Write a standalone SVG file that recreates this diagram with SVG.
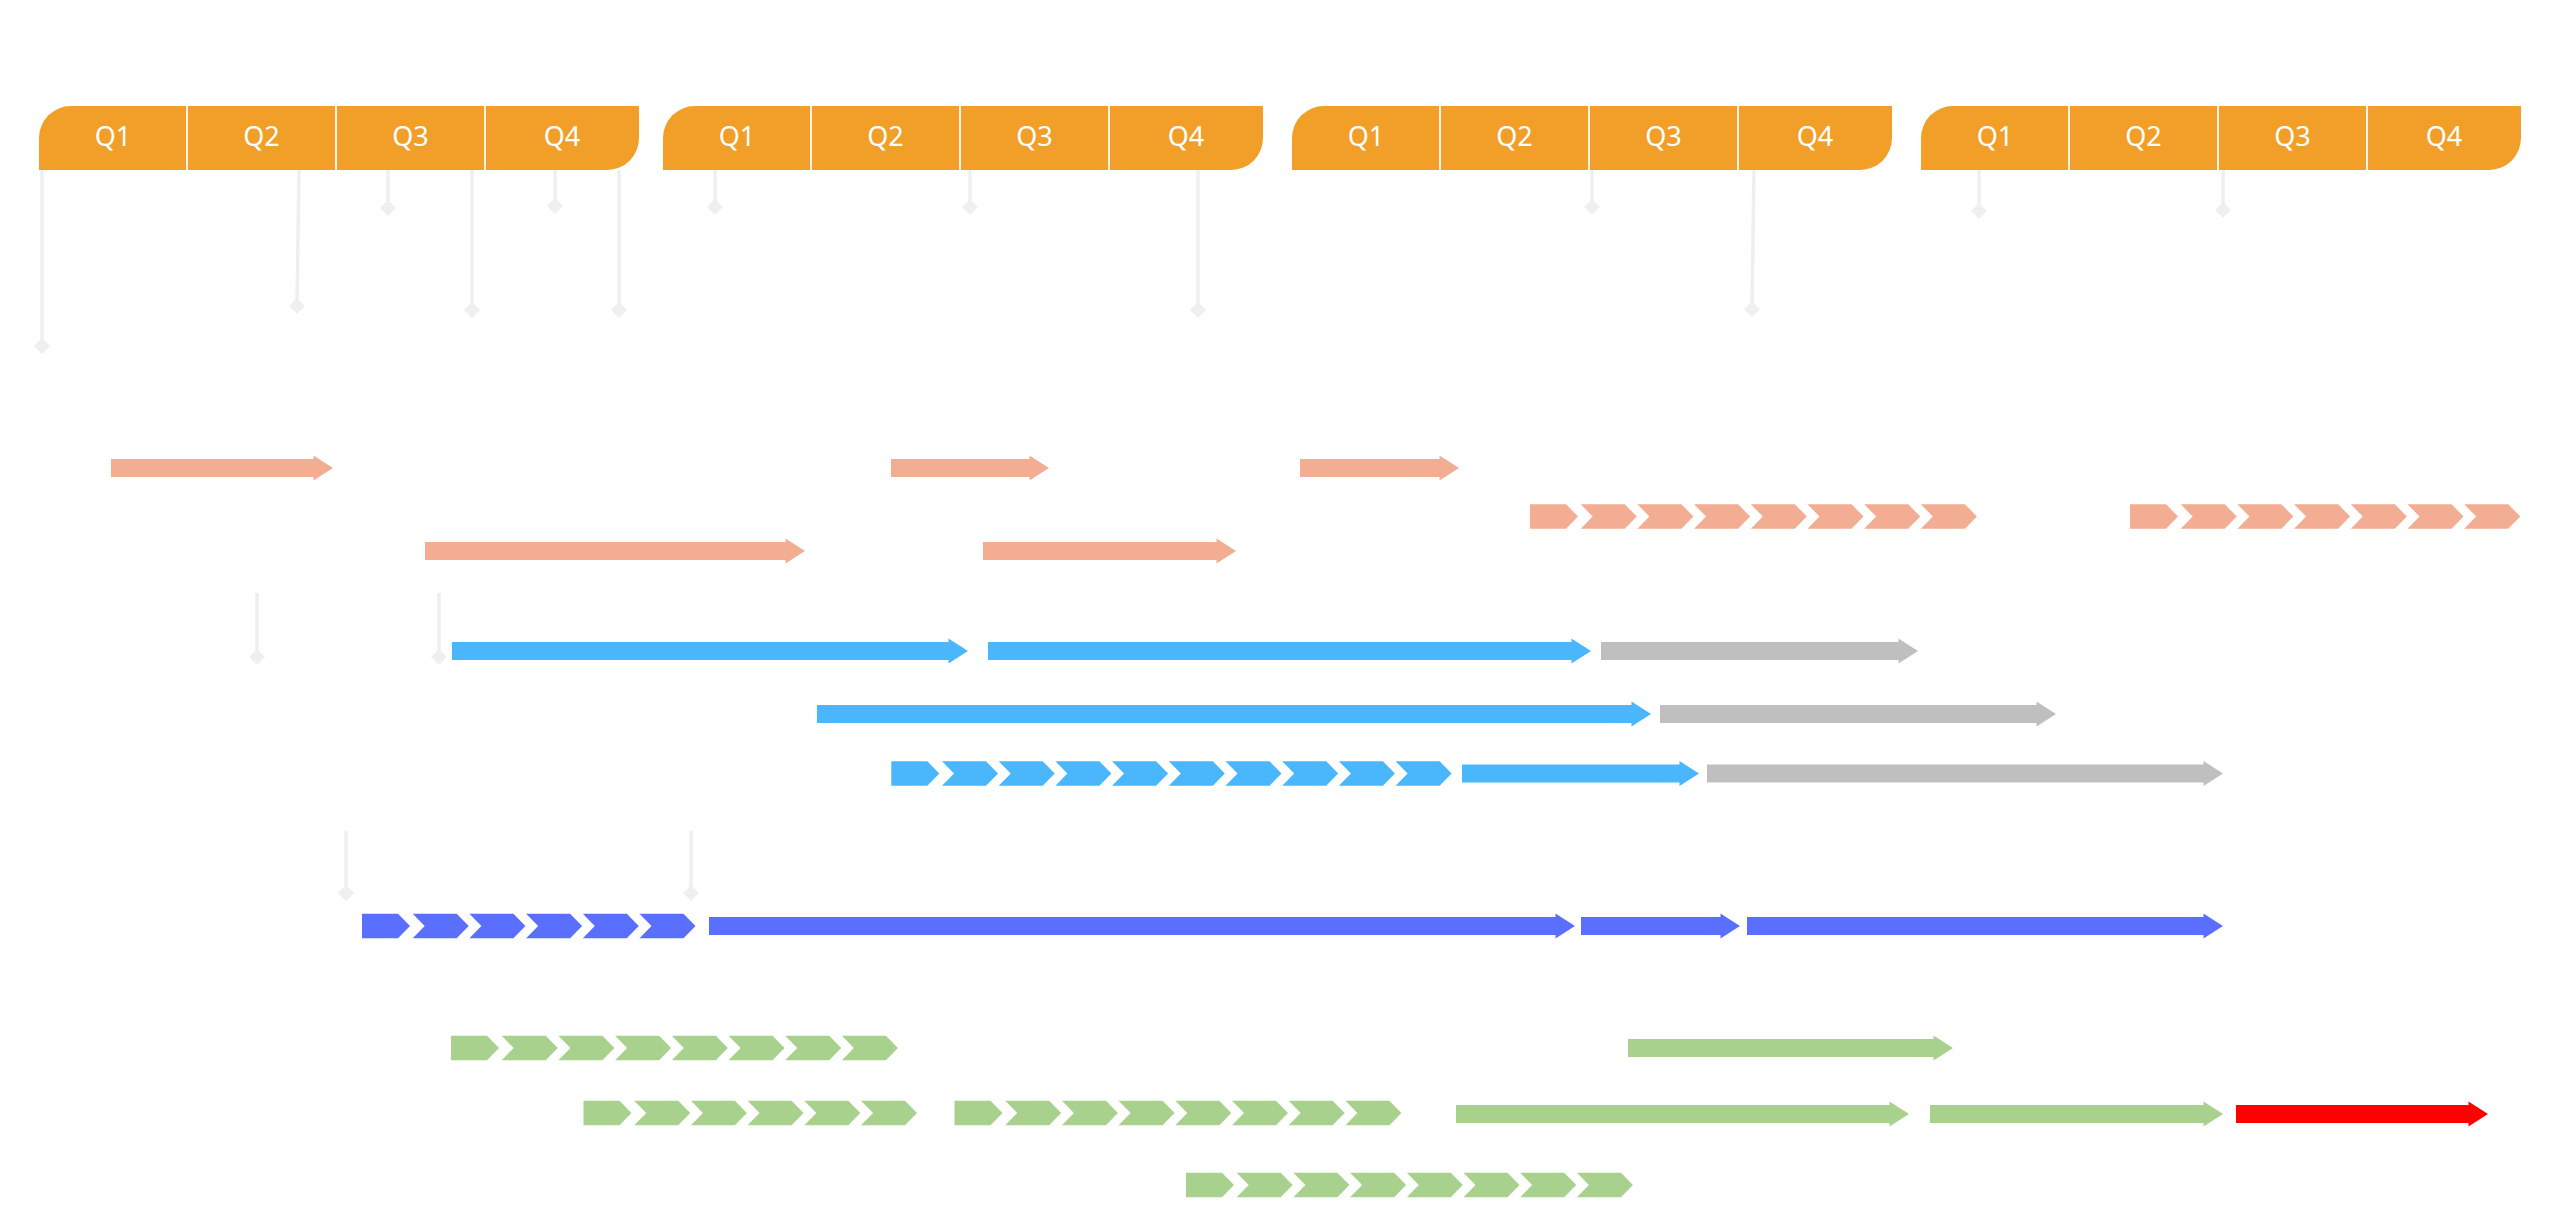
<svg xmlns="http://www.w3.org/2000/svg" xmlns:xlink="http://www.w3.org/1999/xlink" width="2560" height="1209" viewBox="0 0 2560 1209">
<style>
.hdr{fill:#F19F28}
.div{stroke:#FFF6E8;stroke-width:2}
.ql{font-family:"Noto Sans","Liberation Sans",sans-serif;font-size:27px;fill:#FFFFFF;text-anchor:middle}
.ms{stroke:#EFEFEF;stroke-width:3.5;fill:none}
.dm{fill:#EFEFEF}
.salmon{fill:#F2AD93}
.blue{fill:#4AB6FC}
.gray{fill:#BFBFBF}
.purple{fill:#5A6FFD}
.green{fill:#A9D18E}
.red{fill:#FF0000}
</style>
<defs>
<path id="chev0" d="M0,-12.25 H36 L48,0 L36,12.25 H0 Z"/>
<path id="chev" d="M0,-12.25 H44 L56,0 L44,12.25 H0 L12,0 Z"/>
<path id="dia" d="M0,-8 L8,0 L0,8 L-8,0 Z"/>
</defs>
<rect width="2560" height="1209" fill="#FFFFFF"/>

<!-- milestone connectors -->
<g id="connectors">
  <path class="ms" d="M42,170 V346 M299,170 L297,306 M388,170 V208 M472,170 V310 M555,170 V206 M619,170 V310"/>
  <path class="ms" d="M715,170 V207 M970,170 V207 M1198,170 V310"/>
  <path class="ms" d="M1592,170 V207 M1754,170 L1752,309"/>
  <path class="ms" d="M1979,170 V211 M2223,170 V210"/>
  <path class="ms" d="M257,593 V657 M439,593 V657 M346,831 V893 M691,831 V893"/>
  <g class="dm">
    <use href="#dia" x="42" y="346"/><use href="#dia" x="297" y="306"/><use href="#dia" x="388" y="208"/>
    <use href="#dia" x="472" y="310"/><use href="#dia" x="555" y="206"/><use href="#dia" x="619" y="310"/>
    <use href="#dia" x="715" y="207"/><use href="#dia" x="970" y="207"/><use href="#dia" x="1198" y="310"/>
    <use href="#dia" x="1592" y="207"/><use href="#dia" x="1752" y="309"/>
    <use href="#dia" x="1979" y="211"/><use href="#dia" x="2223" y="210"/>
    <use href="#dia" x="257" y="657"/><use href="#dia" x="439" y="657"/>
    <use href="#dia" x="346" y="893"/><use href="#dia" x="691" y="893"/>
  </g>
</g>

<!-- year headers -->
<g id="year1">
  <path class="hdr" d="M39,170 V138 A32,32 0 0 1 71,106 H639 V138 A32,32 0 0 1 607,170 Z"/>
  <path class="div" d="M187,106 V170 M336,106 V170 M485,106 V170"/>
  <text class="ql" x="113" y="146">Q1</text><text class="ql" x="261.5" y="146">Q2</text>
  <text class="ql" x="410.5" y="146">Q3</text><text class="ql" x="562" y="146">Q4</text>
</g>
<g id="year2">
  <path class="hdr" d="M663,170 V138 A32,32 0 0 1 695,106 H1263 V138 A32,32 0 0 1 1231,170 Z"/>
  <path class="div" d="M811,106 V170 M960,106 V170 M1109,106 V170"/>
  <text class="ql" x="737" y="146">Q1</text><text class="ql" x="885.5" y="146">Q2</text>
  <text class="ql" x="1034.5" y="146">Q3</text><text class="ql" x="1186" y="146">Q4</text>
</g>
<g id="year3">
  <path class="hdr" d="M1292,170 V138 A32,32 0 0 1 1324,106 H1892 V138 A32,32 0 0 1 1860,170 Z"/>
  <path class="div" d="M1440,106 V170 M1589,106 V170 M1738,106 V170"/>
  <text class="ql" x="1366" y="146">Q1</text><text class="ql" x="1514.5" y="146">Q2</text>
  <text class="ql" x="1663.5" y="146">Q3</text><text class="ql" x="1815" y="146">Q4</text>
</g>
<g id="year4">
  <path class="hdr" d="M1921,170 V138 A32,32 0 0 1 1953,106 H2521 V138 A32,32 0 0 1 2489,170 Z"/>
  <path class="div" d="M2069,106 V170 M2218,106 V170 M2367,106 V170"/>
  <text class="ql" x="1995" y="146">Q1</text><text class="ql" x="2143.5" y="146">Q2</text>
  <text class="ql" x="2292.5" y="146">Q3</text><text class="ql" x="2444" y="146">Q4</text>
</g>

<!-- row A -->
<g id="rowA" transform="translate(0,468)" class="salmon">
  <path d="M111,-9 H313.5 V-12.5 L333,0 L313.5,12.5 V9 H111 Z"/>
  <path d="M891,-9 H1029.5 V-12.5 L1049,0 L1029.5,12.5 V9 H891 Z"/>
  <path d="M1300,-9 H1439.5 V-12.5 L1459,0 L1439.5,12.5 V9 H1300 Z"/>
</g>
<!-- row B -->
<g id="rowB" transform="translate(0,516.5)" class="salmon">
  <use href="#chev0" x="1530"/><use href="#chev" x="1580.7"/><use href="#chev" x="1637.4"/><use href="#chev" x="1694.1"/>
  <use href="#chev" x="1750.8"/><use href="#chev" x="1807.5"/><use href="#chev" x="1864.2"/><use href="#chev" x="1920.9"/>
  <use href="#chev0" x="2130"/><use href="#chev" x="2180.7"/><use href="#chev" x="2237.4"/><use href="#chev" x="2294.1"/>
  <use href="#chev" x="2350.8"/><use href="#chev" x="2407.5"/><use href="#chev" x="2464.2"/>
</g>
<!-- row C -->
<g id="rowC" transform="translate(0,551)" class="salmon">
  <path d="M425,-9 H785.5 V-12.5 L805,0 L785.5,12.5 V9 H425 Z"/>
  <path d="M983,-9 H1216.5 V-12.5 L1236,0 L1216.5,12.5 V9 H983 Z"/>
</g>
<!-- row D -->
<g id="rowD" transform="translate(0,651)">
  <path class="blue" d="M452,-9 H948.5 V-12.5 L968,0 L948.5,12.5 V9 H452 Z"/>
  <path class="blue" d="M988,-9 H1571.5 V-12.5 L1591,0 L1571.5,12.5 V9 H988 Z"/>
  <path class="gray" d="M1601,-9 H1898.5 V-12.5 L1918,0 L1898.5,12.5 V9 H1601 Z"/>
</g>
<!-- row E -->
<g id="rowE" transform="translate(0,714)">
  <path class="blue" d="M817,-9 H1631.5 V-12.5 L1651,0 L1631.5,12.5 V9 H817 Z"/>
  <path class="gray" d="M1660,-9 H2036.5 V-12.5 L2056,0 L2036.5,12.5 V9 H1660 Z"/>
</g>
<!-- row F -->
<g id="rowF" transform="translate(0,773.5)">
  <g class="blue">
    <use href="#chev0" x="891.3"/><use href="#chev" x="942"/><use href="#chev" x="998.7"/><use href="#chev" x="1055.4"/>
    <use href="#chev" x="1112.1"/><use href="#chev" x="1168.8"/><use href="#chev" x="1225.5"/><use href="#chev" x="1282.2"/>
    <use href="#chev" x="1338.9"/><use href="#chev" x="1395.6"/>
    <path d="M1462,-9 H1679.5 V-12.5 L1699,0 L1679.5,12.5 V9 H1462 Z"/>
  </g>
  <path class="gray" d="M1707,-9 H2203.5 V-12.5 L2223,0 L2203.5,12.5 V9 H1707 Z"/>
</g>
<!-- row G -->
<g id="rowG" transform="translate(0,926)" class="purple">
  <use href="#chev0" x="362"/><use href="#chev" x="412.7"/><use href="#chev" x="469.4"/><use href="#chev" x="526.1"/>
  <use href="#chev" x="582.8"/><use href="#chev" x="639.5"/>
  <path d="M709,-9 H1555.5 V-12.5 L1575,0 L1555.5,12.5 V9 H709 Z"/>
  <path d="M1581,-9 H1720.5 V-12.5 L1740,0 L1720.5,12.5 V9 H1581 Z"/>
  <path d="M1747,-9 H2203.5 V-12.5 L2223,0 L2203.5,12.5 V9 H1747 Z"/>
</g>
<!-- row H -->
<g id="rowH" transform="translate(0,1048)" class="green">
  <use href="#chev0" x="451"/><use href="#chev" x="501.7"/><use href="#chev" x="558.4"/><use href="#chev" x="615.1"/>
  <use href="#chev" x="671.8"/><use href="#chev" x="728.5"/><use href="#chev" x="785.2"/><use href="#chev" x="841.9"/>
  <path d="M1628,-9 H1933.5 V-12.5 L1953,0 L1933.5,12.5 V9 H1628 Z"/>
</g>
<!-- row I -->
<g id="rowI" transform="translate(0,1113)">
  <g class="green">
    <use href="#chev0" x="583.5"/><use href="#chev" x="634.2"/><use href="#chev" x="690.9"/><use href="#chev" x="747.6"/>
    <use href="#chev" x="804.3"/><use href="#chev" x="861"/>
    <use href="#chev0" x="954.5"/><use href="#chev" x="1005.2"/><use href="#chev" x="1061.9"/><use href="#chev" x="1118.6"/>
    <use href="#chev" x="1175.3"/><use href="#chev" x="1232"/><use href="#chev" x="1288.7"/><use href="#chev" x="1345.4"/>
    <path d="M1456,-8 H1889.5 V-11.5 L1909,1 L1889.5,13.5 V10 H1456 Z"/>
    <path d="M1930,-8 H2203.5 V-11.5 L2223,1 L2203.5,13.5 V10 H1930 Z"/>
  </g>
  <path class="red" d="M2236,-8 H2468.5 V-11.5 L2488,1 L2468.5,13.5 V10 H2236 Z"/>
</g>
<!-- row J -->
<g id="rowJ" transform="translate(0,1185)" class="green">
  <use href="#chev0" x="1186"/><use href="#chev" x="1236.7"/><use href="#chev" x="1293.4"/><use href="#chev" x="1350.1"/>
  <use href="#chev" x="1406.8"/><use href="#chev" x="1463.5"/><use href="#chev" x="1520.2"/><use href="#chev" x="1576.9"/>
</g>
</svg>
